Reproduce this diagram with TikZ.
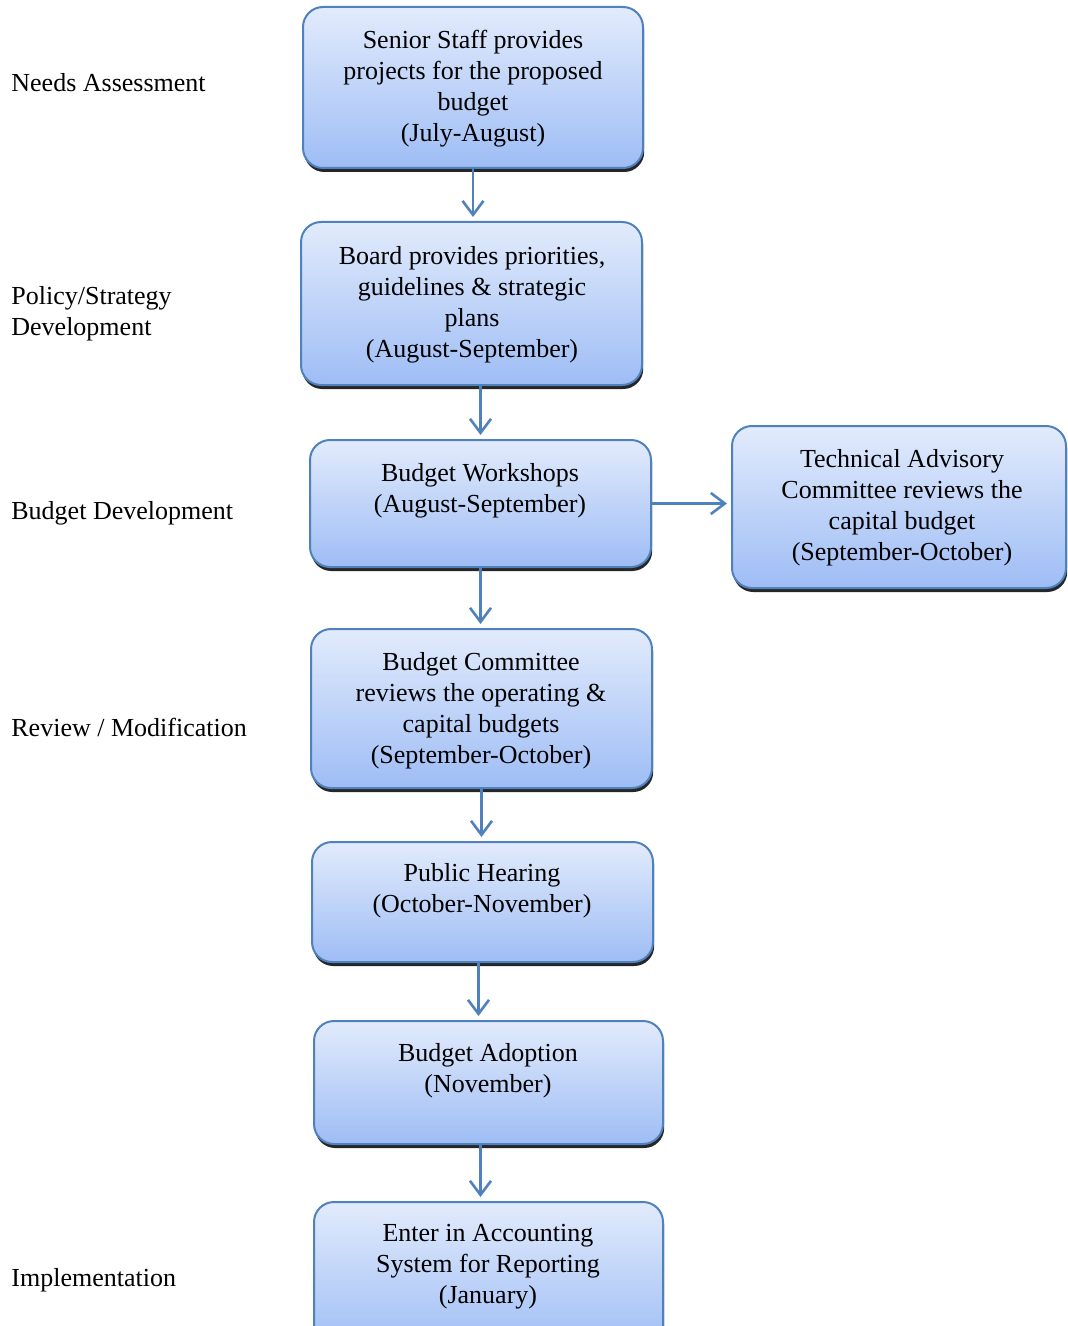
\documentclass[tikz,border=0pt]{standalone}
\usepackage{fontspec}
\setmainfont{Liberation Serif}
\usetikzlibrary{%
  arrows.meta,
  positioning,
  shadows
}
\definecolor{boxline}{RGB}{79,129,189}
\definecolor{boxtop}{RGB}{226,235,252}
\definecolor{boxbottom}{RGB}{158,189,245}
\tikzset{
  stepbox/.style={
    draw=boxline, line width=1pt,
    rounded corners=10pt,
    top color=boxtop, bottom color=boxbottom,
    drop shadow={shadow xshift=0.6pt, shadow yshift=-2pt,
                 fill=black, opacity=0.85},
  },
  steptext/.style={
    align=center, inner sep=0pt,
    font=\fontsize{13}{15.5}\selectfont,
  },
  phase/.style={
    align=left, anchor=west, inner sep=0pt,
    font=\fontsize{13}{15.5}\selectfont,
  },
  flow/.style={
    draw=boxline, line width=1.3pt,
    -{Straight Barb[length=7pt,width=10.5pt,line width=1.3pt]},
    shorten >=2pt,
  },
}

\begin{document}
\begin{tikzpicture}[x=0.5pt, y=-0.5pt]
    \useasboundingbox (0,0) rectangle (1067,1326);

    % phases
    \node [phase] (p1) at (11,  83) {Needs Assessment};
    \node [phase] (p2) at (11, 313.5) {Policy/Strategy\\Development};
    \node [phase] (p3) at (11, 513) {Budget Development};
    \node [phase] (p4) at (11, 727) {Review / Modification};
    \node [phase] (p5) at (11,1280) {Implementation};

    % boxes
    \node [stepbox, minimum width=170pt,   minimum height=80.5pt] (b1) at (473,  87.5) {};
    \node [stepbox, minimum width=170.5pt, minimum height=81.5pt] (b2) at (471.5, 303.5) {};
    \node [stepbox, minimum width=170.5pt, minimum height=63.5pt] (b3) at (480.5, 503.5) {};
    \node [stepbox, minimum width=167pt,   minimum height=81pt]   (b4) at (899,   507) {};
    \node [stepbox, minimum width=170.5pt, minimum height=79.5pt] (b5) at (481.5, 708.5) {};
    \node [stepbox, minimum width=170.5pt, minimum height=60pt]   (b6) at (482.5, 902) {};
    \node [stepbox, minimum width=174.5pt, minimum height=61.5pt] (b7) at (488.5,1082.5) {};
    \node [stepbox, minimum width=174.5pt, minimum height=74pt]   (b8) at (488.5,1276) {};

    \node [steptext] (t1) at (473,  89) {Senior Staff provides\\projects for the proposed\\budget\\(July-August)};
    \node [steptext] (t2) at (472, 305) {Board provides priorities,\\guidelines \& strategic\\plans\\(August-September)};
    \node [steptext] (t3) at (480, 490.5) {Budget Workshops\\(August-September)};
    \node [steptext] (t4) at (902, 507.5) {Technical Advisory\\Committee reviews the\\capital budget\\(September-October)};
    \node [steptext] (t5) at (481, 710.5) {Budget Committee\\reviews the operating \&\\capital budgets\\(September-October)};
    \node [steptext] (t6) at (482, 891) {Public Hearing\\(October-November)};
    \node [steptext] (t7) at (488,1071) {Budget Adoption\\(November)};
    \node [steptext] (t8) at (488,1266.5) {Enter in Accounting\\System for Reporting\\(January)};

    % arrows
    \draw [flow] (b1.south) -- (b1.south |- b2.north);
    \draw [flow] (b2.south -| b3.north) -- (b3.north);
    \draw [flow] (b3.east) -- (b3.east -| b4.west);
    \draw [flow] (b3.south) -- (b3.south |- b5.north);
    \draw [flow] (b5.south) -- (b5.south |- b6.north);
    \draw [flow] ([xshift=-2pt]b6.south) -- ([xshift=-2pt]b6.south |- b7.north);
    \draw [flow] ([xshift=-4pt]b7.south) -- ([xshift=-4pt]b7.south |- b8.north);
\end{tikzpicture}
\end{document}
